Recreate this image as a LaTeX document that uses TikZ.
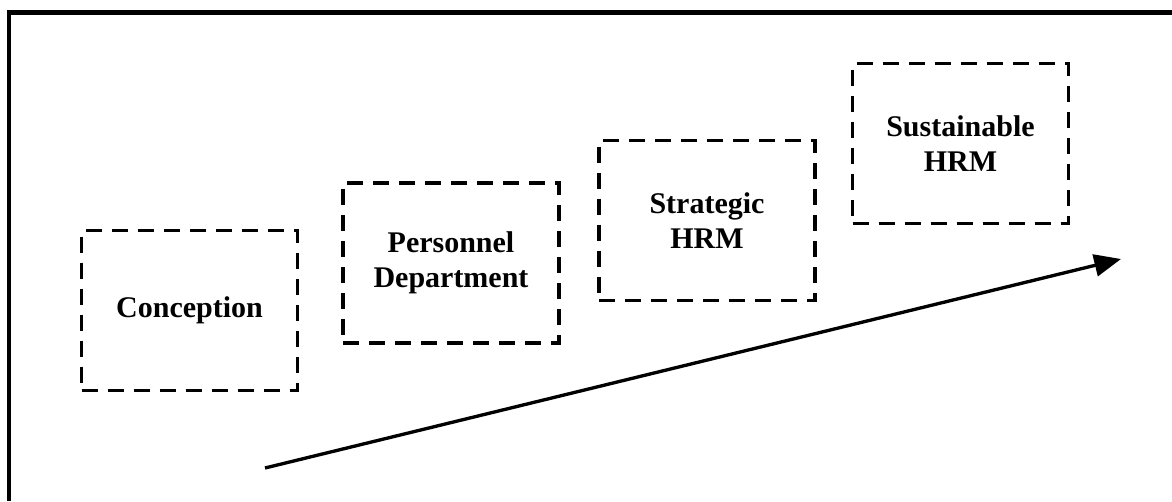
\documentclass[tikz,border=0pt]{standalone}
\usepackage{fontspec}
\setmainfont{Liberation Serif}
\usetikzlibrary{arrows.meta}
\tikzset{
  stage/.style={draw, line width=2.5pt, dash pattern={on 12pt off 7.5pt},
    minimum width=162pt, minimum height=120pt, inner sep=0.75pt, align=center,
    font=\fontsize{22.5}{26.5}\selectfont\bfseries},
  trend/.style={line width=2.5pt, -{Triangle[length=20pt,width=16.5pt]}}
}
\begin{document}
\begin{tikzpicture}[x=0.75pt,y=0.75pt,yscale=-1,xscale=1]
\useasboundingbox (0,0) rectangle (1172,501);

%Frame
\draw [line width=3.6pt] (9,501) -- (9,12.3) -- (1172,12.3) ;

%Shape: Stages
\node [stage] (conception) at (189.5,310.5) {Conception};
\node [stage] (personnel) at (451,263) {Personnel\\Department};
\node [stage] (strategic) at (707,220.5) {Strategic\\HRM};
\node [stage] (sustainable) at (960.5,143.5) {Sustainable\\HRM};

%Straight Lines
\coordinate (trendstart) at (265,468);
\coordinate (trendend) at (1121,259);
\draw [trend] (trendstart) -- (trendend) ;

\end{tikzpicture}
\end{document}
